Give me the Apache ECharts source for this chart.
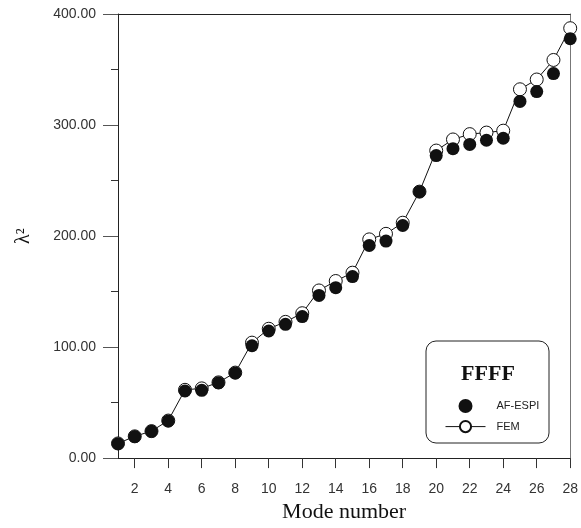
<!DOCTYPE html>
<html>
<head>
<meta charset="utf-8">
<script src="https://cdn.jsdelivr.net/npm/echarts@6/dist/echarts.min.js"></script>
<style>
  html, body { margin: 0; padding: 0; background: #fff; }
  #chart { width: 581px; height: 528px; }
</style>
</head>
<body>
<div id="chart"></div>
<script>
// mode numbers and measured / computed values
const modes = [1, 2, 3, 4, 5, 6, 7, 8, 9, 10, 11, 12, 13, 14, 15, 16, 17, 18, 19, 20, 21, 22, 23, 24, 25, 26, 27, 28]
const afEspi = [13.0, 19.4, 24.1, 33.5, 60.5, 61.0, 67.8, 76.7, 101.2, 114.5, 120.5, 127.5, 146.5, 153.5,
  163.5, 191.5, 195.5, 209.5, 240.0, 272.5, 278.7, 282.5, 286.3, 288.1, 321.3, 330.1, 346.3, 377.7]
const fem = [13.2, 19.6, 24.3, 33.8, 61.5, 62.8, 68.2, 77.0, 104.0, 116.5, 122.7, 130.5, 151.0, 159.5,
  167.0, 197.0, 202.0, 212.0, 240.0, 277.0, 287.0, 291.8, 293.2, 294.9, 332.2, 341.0, 358.6, 387.2]
const xTicks = [2, 4, 6, 8, 10, 12, 14, 16, 18, 20, 22, 24, 26, 28]

const chart = echarts.init(document.getElementById('chart'))

const sans = 'Liberation Sans, Arial, sans-serif'
const serif = 'Liberation Serif, Times New Roman, serif'

const option = {
  animation: false,
  backgroundColor: '#fff',
  grid: { left: 118, right: 8, top: 14, bottom: 60 },
  xAxis: [
    {
      type: 'value',
      min: 1,
      max: 28,
      name: 'Mode number',
      nameLocation: 'middle',
      nameGap: 34,
      nameTextStyle: { fontFamily: serif, fontSize: 22, color: '#111' },
      axisLine: { show: true, onZero: false, lineStyle: { color: '#222', width: 1 } },
      axisTick: { show: true, length: 10, customValues: xTicks, lineStyle: { color: '#333' } },
      axisLabel: { customValues: xTicks, margin: 24, fontFamily: sans, fontSize: 14, color: '#333' },
      splitLine: { show: false }
    },
    {
      type: 'value',
      position: 'top',
      min: 1,
      max: 28,
      axisLine: { show: true, onZero: false, lineStyle: { color: '#222', width: 1 } },
      axisTick: { show: false },
      axisLabel: { show: false },
      splitLine: { show: false }
    }
  ],
  yAxis: [
    {
      type: 'value',
      min: 0,
      max: 400,
      interval: 100,
      name: 'λ²',
      nameLocation: 'middle',
      nameRotate: 90,
      nameGap: 84,
      nameTextStyle: { fontFamily: serif, fontSize: 20, color: '#111' },
      axisLine: { show: true, onZero: false, lineStyle: { color: '#222', width: 1 } },
      axisTick: { show: true, length: 15, lineStyle: { color: '#555' } },
      minorTick: { show: true, splitNumber: 2, length: 7, lineStyle: { color: '#333' } },
      axisLabel: {
        margin: 22,
        fontFamily: sans,
        fontSize: 14,
        color: '#333',
        formatter: (v) => v.toFixed(2)
      },
      splitLine: { show: false }
    },
    {
      type: 'value',
      position: 'right',
      min: 0,
      max: 400,
      axisLine: { show: true, onZero: false, lineStyle: { color: '#777', width: 1 } },
      axisTick: { show: false },
      axisLabel: { show: false },
      splitLine: { show: false }
    }
  ],
  legend: {
    orient: 'vertical',
    left: 440,
    top: 394,
    itemWidth: 40,
    itemHeight: 14,
    itemGap: 7,
    data: ['AF-ESPI', 'FEM'],
    lineStyle: { width: 1 },
    textStyle: { fontFamily: sans, fontSize: 11, color: '#222', padding: [0, 0, 0, 6] }
  },
  graphic: [
    {
      type: 'rect',
      z: 3,
      shape: { x: 426, y: 341, width: 123, height: 102, r: 10 },
      style: { fill: '#fff', stroke: '#222', lineWidth: 1 }
    },
    {
      type: 'text',
      z: 4,
      x: 488,
      y: 374,
      style: {
        text: 'FFFF',
        fill: '#111',
        font: 'bold 22px ' + serif,
        textAlign: 'center',
        textVerticalAlign: 'middle'
      }
    }
  ],
  series: [
    {
      name: 'FEM',
      type: 'line',
      data: modes.map((m, i) => [m, fem[i]]),
      symbol: 'circle',
      symbolSize: 13,
      lineStyle: { color: '#111', width: 1 },
      itemStyle: { color: '#fff', borderColor: '#111', borderWidth: 1, opacity: 1 },
      z: 2
    },
    {
      name: 'AF-ESPI',
      type: 'scatter',
      data: modes.map((m, i) => [m, afEspi[i]]),
      symbol: 'circle',
      symbolSize: 13,
      itemStyle: { color: '#111', opacity: 1 },
      z: 3
    }
  ]
}

option && chart.setOption(option)
</script>
</body>
</html>
